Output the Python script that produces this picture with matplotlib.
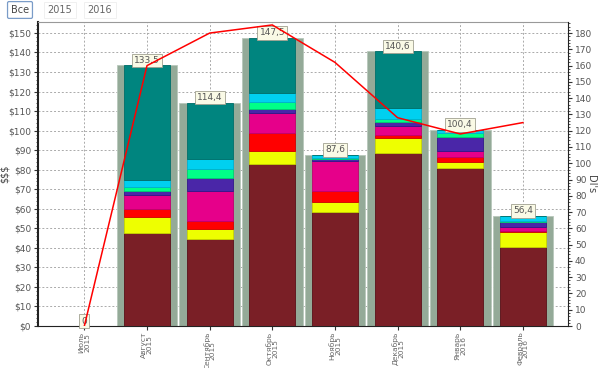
import numpy as np
import matplotlib.pyplot as plt
from matplotlib.ticker import MultipleLocator, FuncFormatter

# Data
months = ['Июль\n2015', 'Август\n2015', 'Сентябрь\n2015', 'Октябрь\n2015',
          'Ноябрь\n2015', 'Декабрь\n2015', 'Январь\n2016', 'Февраль\n2016']
totals = [0, 133.5, 114.4, 147.5, 87.6, 140.6, 100.4, 56.4]

seg_darkred = [0, 47.6, 44.5, 82.9, 58.4, 88.6, 80.9, 40.4]
seg_yellow = [0, 8.2, 5.2, 6.7, 5.1, 7.7, 3.1, 7.7]
seg_red = [0, 4.1, 4.1, 9.2, 5.6, 1.5, 2.5, 0.5]
seg_magenta = [0, 7.2, 15.3, 10.3, 15.4, 4.6, 3.1, 2.1]
seg_indigo = [0, 2.0, 6.7, 2.0, 1.0, 2.1, 7.2, 2.6]
seg_green = [0, 2.1, 4.6, 3.6, 0.5, 1.5, 2.0, 0.5]
seg_cyan = [0, 3.6, 5.1, 4.6, 1.6, 5.6, 1.6, 2.6]
seg_teal = [0, 58.7, 28.9, 28.2, 0, 29.0, 0, 0]

dis = [0, 160, 180, 185, 162, 128, 118, 125]

segments = [
    (seg_darkred, '#7a1f26', '#5a1018'),
    (seg_yellow, '#eeff00', '#c8d600'),
    (seg_red, '#ff0000', '#d00000'),
    (seg_magenta, '#e6008a', '#c0006f'),
    (seg_indigo, '#4a26a8', '#30178a'),
    (seg_green, '#00ff88', '#00d070'),
    (seg_cyan, '#00d0f0', '#00b0d0'),
    (seg_teal, '#00857f', '#006f6a'),
]

x = np.arange(len(months))

fig = plt.figure(figsize=(6, 3.68), dpi=100)
ax = fig.add_axes([0.0633, 0.1141, 0.8834, 0.8261])

# background grey bars
ax.bar(x, totals, width=0.97, color='#94aa98', edgecolor='#b8c8bb', linewidth=0.6, zorder=2)

bottom = np.zeros(len(months))
for vals, col, ec in segments:
    vals = np.array(vals)
    ax.bar(x, vals, width=0.735, bottom=bottom, color=col, edgecolor=ec,
           linewidth=0.6, zorder=3)
    bottom += vals

for xi, t in zip(x, totals):
    txt = f"{t:g}".replace('.', ',')
    ax.text(xi, t + 2.5, txt, ha='center', va='center', fontsize=6.5, color='#555555',
            zorder=6, bbox=dict(boxstyle='square,pad=0.25', fc='#fafae6', ec='#a0a090', lw=0.6))

ax.set_xlim(-0.74, 7.72)
ax.set_ylim(0, 155.6)
ax.set_xticks(x)
ax.set_xticklabels(months, rotation=90, fontsize=5.4, color='#666666', linespacing=0.95)
ax.yaxis.set_major_locator(MultipleLocator(10))
ax.yaxis.set_minor_locator(MultipleLocator(2))
ax.yaxis.set_major_formatter(FuncFormatter(lambda v, p: f"${v:.0f}"))
ax.tick_params(axis='y', labelsize=6.5, labelcolor='#555555', length=3, color='#333333', pad=2)
ax.tick_params(axis='y', which='minor', length=1.5, color='#333333')
ax.tick_params(axis='x', length=3, color='#333333', pad=1)
ax.grid(True, linestyle=(0, (2, 2)), color='#aaaaaa', linewidth=0.7, zorder=1)
ax.set_axisbelow(True)
ax.set_ylabel('$$$', fontsize=7, color='#444444')
ax.yaxis.set_label_coords(-0.053, 0.5)

ax.spines['left'].set_linewidth(1.5)
ax.spines['left'].set_color('#222222')
ax.spines['bottom'].set_color('#222222')
ax.spines['top'].set_color('#999999')
ax.spines['right'].set_visible(False)

ax2 = ax.twinx()
ax2.plot(x, dis, color='#ff0000', linewidth=1.1, zorder=5)
ax2.set_ylim(0, 186.8)
ax2.yaxis.set_major_locator(MultipleLocator(10))
ax2.yaxis.set_minor_locator(MultipleLocator(2))
ax2.tick_params(axis='y', labelsize=6.5, labelcolor='#555555', length=3, color='#333333', pad=2)
ax2.tick_params(axis='y', which='minor', length=1.5, color='#333333')
ax2.spines['right'].set_color('#222222')
ax2.spines['top'].set_visible(False)
ax2.spines['left'].set_visible(False)
ax2.spines['bottom'].set_visible(False)
fig.text(591 / 600, 0.5, "DI's", rotation=270, ha='center', va='center',
         fontsize=7, color='#444444')

# period buttons
fig.text(20 / 600, 1 - 10 / 368, 'Все', ha='center', va='center', fontsize=7, color='#444444',
         bbox=dict(boxstyle='round,pad=0.35,rounding_size=0.15', fc='white', ec='#7a9cc8', lw=0.9))
fig.text(60 / 600, 1 - 10 / 368, '2015', ha='center', va='center', fontsize=7, color='#666666',
         bbox=dict(boxstyle='square,pad=0.35', fc='white', ec='#eeeeee', lw=0.6))
fig.text(100 / 600, 1 - 10 / 368, '2016', ha='center', va='center', fontsize=7, color='#666666',
         bbox=dict(boxstyle='square,pad=0.35', fc='white', ec='#eeeeee', lw=0.6))

plt.savefig('out.png', dpi=100)
